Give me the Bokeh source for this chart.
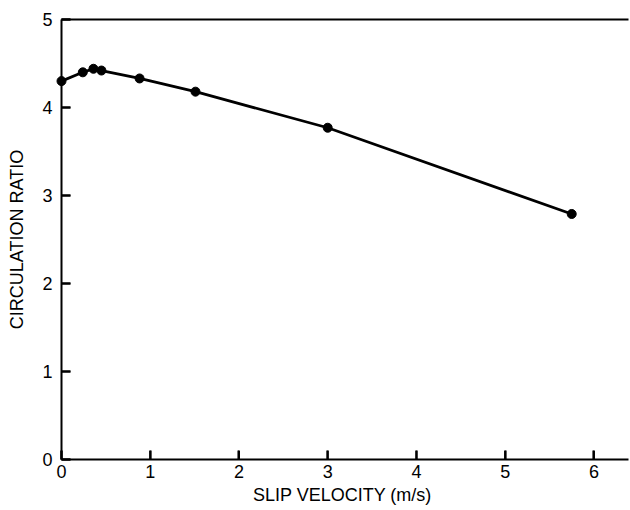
from bokeh.plotting import figure
from bokeh.models import FixedTicker, Range1d, LinearAxis
from bokeh.embed import file_html
from bokeh.resources import INLINE

slip_velocity = [0.0, 0.24, 0.36, 0.45, 0.88, 1.51, 3.0, 5.75]
circulation_ratio = [4.30, 4.40, 4.44, 4.42, 4.33, 4.18, 3.77, 2.79]
x_ticks = [0, 1, 2, 3, 4, 5, 6]
y_ticks = [0, 1, 2, 3, 4, 5]
TICK_LEN = 0.1    # inward tick length in data units (~9 px)
TICK_HALF = 0.012  # half tick thickness in data units (~1 px)

FONT = "Liberation Sans"

p = figure(width=630, height=508, output_backend="svg", toolbar_location=None,
           x_range=Range1d(0, 6.39), y_range=Range1d(0, 5),
           min_border_top=19, min_border_right=2, min_border_left=61, min_border_bottom=49)
p.outline_line_color = None
p.grid.visible = False

for ax in (p.xaxis[0], p.yaxis[0]):
    ax.axis_line_width = 2
    ax.axis_line_color = "black"
    ax.major_tick_in = 9
    ax.major_tick_out = 0
    ax.major_tick_line_width = 2
    ax.major_tick_line_color = "black"
    ax.minor_tick_line_color = None
    ax.major_label_text_font = FONT
    ax.major_label_text_font_size = "18px"
    ax.major_label_text_color = "black"
    ax.axis_label_text_font = FONT
    ax.axis_label_text_font_size = "18px"
    ax.axis_label_text_font_style = "normal"
    ax.axis_label_text_color = "black"

p.xaxis[0].ticker = FixedTicker(ticks=x_ticks)
p.yaxis[0].ticker = FixedTicker(ticks=y_ticks)
p.xaxis[0].axis_label = "SLIP VELOCITY  (m/s)"
p.yaxis[0].axis_label = "CIRCULATION RATIO"
p.xaxis[0].major_label_standoff = 5
p.xaxis[0].axis_label_standoff = 4
p.yaxis[0].major_label_standoff = 9
p.yaxis[0].axis_label_standoff = 12

top = LinearAxis(ticker=FixedTicker(ticks=[]), axis_line_width=2, axis_line_color="black",
                 major_tick_in=0, major_tick_out=0, minor_tick_line_color=None,
                 major_label_text_font_size="0px")
p.add_layout(top, "above")

# inward tick marks drawn as thin filled bars
p.quad(left=[t - TICK_HALF for t in x_ticks], right=[t + TICK_HALF for t in x_ticks],
       bottom=[y_ticks[0]] * len(x_ticks), top=[y_ticks[0] + TICK_LEN] * len(x_ticks),
       fill_color="black", line_color=None, level="overlay")
p.quad(left=[x_ticks[0]] * len(y_ticks), right=[x_ticks[0] + TICK_LEN] * len(y_ticks),
       bottom=[t - TICK_HALF for t in y_ticks], top=[t + TICK_HALF for t in y_ticks],
       fill_color="black", line_color=None, level="overlay")

p.line(slip_velocity, circulation_ratio, line_color="black", line_width=2.8, level="overlay")
p.scatter(slip_velocity, circulation_ratio, size=9, fill_color="black", line_color="black",
          level="overlay")

open("out.html", "w").write(file_html(p, INLINE))
